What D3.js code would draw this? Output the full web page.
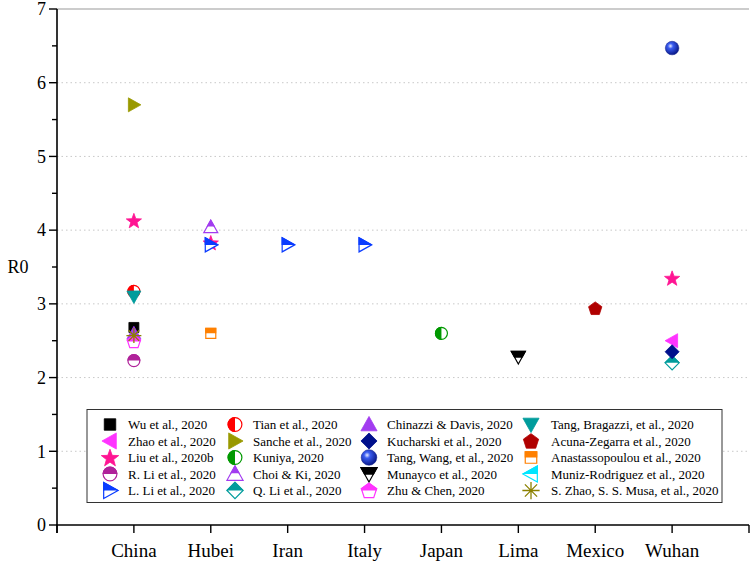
<!DOCTYPE html>
<html>
<head>
<meta charset="utf-8">
<script src="https://cdn.jsdelivr.net/npm/d3@7"></script>
<style>
  html, body { margin: 0; padding: 0; background: #fff; }
  svg { display: block; font-family: "Liberation Serif", "Times New Roman", serif; }
</style>
</head>
<body>
<svg id="chart" width="753" height="563"></svg>
<script>
// ---------- data ----------
const countries = ["China", "Hubei", "Iran", "Italy", "Japan", "Lima", "Mexico", "Wuhan"];
const yTicks = [0, 1, 2, 3, 4, 5, 6, 7];
const studies = [
  "Wu et al., 2020", "Zhao et al., 2020", "Liu et al., 2020b", "R. Li et al., 2020", "L. Li et al., 2020",
  "Tian et al., 2020", "Sanche et al., 2020", "Kuniya, 2020", "Choi & Ki, 2020", "Q. Li et al., 2020",
  "Chinazzi & Davis, 2020", "Kucharski et al., 2020", "Tang, Wang, et al., 2020", "Munayco et al., 2020", "Zhu & Chen, 2020",
  "Tang, Bragazzi, et al., 2020", "Acuna-Zegarra et al., 2020", "Anastassopoulou et al., 2020", "Muniz-Rodriguez et al., 2020", "S. Zhao, S. S. Musa, et al., 2020"
];
const studyColors = [
  "#000000", "#ff33ff", "#ff1493", "#b0229a", "#0a3cff",
  "#ff0000", "#999900", "#009900", "#a23cf0", "#009c9c",
  "#a23cf0", "#00108c", "#1a33cc", "#000000", "#ff33ff",
  "#009c9c", "#b00000", "#ff8000", "#00e5ff", "#8b8000"
];
const studyShapes = [
  "square", "left", "star", "circle", "right",
  "circle", "right", "circle", "up", "diamond",
  "up", "diamond", "sphere", "down", "pentagon",
  "down", "pentagon", "square", "left", "asterisk"
];
const studyFill = [
  "full", "full", "full", "top", "top",
  "left", "full", "left", "top", "top",
  "full", "full", "full", "top", "top",
  "full", "full", "top", "top", "full"
];
// points: study index, country, R0
const pointStudy   = [0, 1, 2, 2, 2, 3, 4, 4, 4, 5, 6, 7, 8, 9, 10, 11, 12, 13, 14, 15, 16, 17, 19];
const pointCountry = ["China", "Wuhan", "China", "Hubei", "Wuhan", "China", "Hubei", "Iran", "Italy", "China", "China", "Japan", "Hubei", "Wuhan", "China", "Wuhan", "Wuhan", "Lima", "China", "China", "Mexico", "Hubei", "China"];
const pointR0      = [2.68, 2.5, 4.13, 3.83, 3.35, 2.23, 3.8, 3.8, 3.8, 3.17, 5.7, 2.6, 4.04, 2.2, 2.6, 2.35, 6.47, 2.28, 2.49, 3.1, 2.94, 2.6, 2.57];

// ---------- layout ----------
const svg = d3.select("#chart");
const X0 = 57, X1 = 749, Y0 = 525, Y1 = 9;
const x = d3.scaleLinear().domain([0, countries.length + 1]).range([X0, X1]);
const y = d3.scaleLinear().domain([0, 7]).range([Y0, Y1]);

const defs = svg.append("defs");
defs.append("clipPath").attr("id", "clipTop").attr("clipPathUnits", "objectBoundingBox")
  .append("rect").attr("x", -0.1).attr("y", -0.1).attr("width", 1.2).attr("height", 0.6);
defs.append("clipPath").attr("id", "clipLeft").attr("clipPathUnits", "objectBoundingBox")
  .append("rect").attr("x", -0.1).attr("y", -0.1).attr("width", 0.6).attr("height", 1.2);
const grad = defs.append("radialGradient").attr("id", "sphereGrad")
  .attr("cx", "38%").attr("cy", "35%").attr("r", "65%");
grad.append("stop").attr("offset", "0%").attr("stop-color", "#e8ecff");
grad.append("stop").attr("offset", "30%").attr("stop-color", "#3a5cf0");
grad.append("stop").attr("offset", "100%").attr("stop-color", "#0a1a8a");

// gridlines
svg.append("g").selectAll("line").data(yTicks.filter(v => v > 0 && v < 7)).join("line")
  .attr("x1", X0).attr("x2", X1).attr("y1", d => y(d)).attr("y2", d => y(d))
  .attr("stroke", "#c8c8c8").attr("stroke-width", 1).attr("stroke-dasharray", "1.5,3");

// top frame line
svg.append("line").attr("x1", X0).attr("x2", X1).attr("y1", Y1).attr("y2", Y1)
  .attr("stroke", "#9a9a9a").attr("stroke-width", 1.2);

// ---------- marker drawing ----------
function shapePath(shape, s) {
  const p = [];
  switch (shape) {
    case "square": { const h = 5 * s; return `M${-h},${-h}H${h}V${h}H${-h}Z`; }
    case "up": return `M0,${-7 * s}L${7 * s},${5.5 * s}L${-7 * s},${5.5 * s}Z`;
    case "down": return `M0,${7 * s}L${7 * s},${-5.5 * s}L${-7 * s},${-5.5 * s}Z`;
    case "right": return `M${7 * s},0L${-5.5 * s},${-7 * s}L${-5.5 * s},${7 * s}Z`;
    case "left": return `M${-7 * s},0L${5.5 * s},${-7 * s}L${5.5 * s},${7 * s}Z`;
    case "diamond": return `M0,${-7 * s}L${7 * s},0L0,${7 * s}L${-7 * s},0Z`;
    case "pentagon": {
      for (let i = 0; i < 5; i++) {
        const a = -Math.PI / 2 + i * 2 * Math.PI / 5;
        p.push([7 * s * Math.cos(a), 7 * s * Math.sin(a) + 0.6 * s]);
      }
      return "M" + p.map(q => q.join(",")).join("L") + "Z";
    }
    case "star": {
      for (let i = 0; i < 10; i++) {
        const a = -Math.PI / 2 + i * Math.PI / 5;
        const r = (i % 2 === 0 ? 8 : 3.3) * s;
        p.push([r * Math.cos(a), r * Math.sin(a) + 0.8 * s]);
      }
      return "M" + p.map(q => q.join(",")).join("L") + "Z";
    }
    case "asterisk": {
      let d = "";
      for (let i = 0; i < 4; i++) {
        const a = i * Math.PI / 4;
        const r = 7.5 * s;
        d += `M${-r * Math.cos(a)},${-r * Math.sin(a)}L${r * Math.cos(a)},${r * Math.sin(a)}`;
      }
      return d;
    }
    default: return null;
  }
}

function drawMarker(g, si, s) {
  const shape = studyShapes[si], color = studyColors[si], fill = studyFill[si];
  if (shape === "sphere") {
    g.append("circle").attr("r", 6.8 * s).attr("fill", "url(#sphereGrad)").attr("stroke", "#0a1a8a").attr("stroke-width", 0.5);
    return;
  }
  if (shape === "asterisk") {
    g.append("path").attr("d", shapePath(shape, s)).attr("stroke", color).attr("stroke-width", 1.3).attr("fill", "none");
    return;
  }
  const make = () => shape === "circle"
    ? g.append("circle").attr("r", 6 * s)
    : g.append("path").attr("d", shapePath(shape, s));
  if (fill === "full") {
    make().attr("fill", color).attr("stroke", color).attr("stroke-width", 0.8);
  } else {
    make().attr("fill", "#fff").attr("stroke", color).attr("stroke-width", 1.2);
    make().attr("fill", color).attr("stroke", color).attr("stroke-width", 1.2)
      .attr("clip-path", fill === "top" ? "url(#clipTop)" : "url(#clipLeft)");
  }
}

// ---------- points ----------
const points = pointStudy.map((si, i) => ({ si, c: pointCountry[i], v: pointR0[i] }));
const pg = svg.append("g");
points.forEach(d => {
  const g = pg.append("g").attr("transform", `translate(${x(countries.indexOf(d.c) + 1)},${y(d.v)})`);
  drawMarker(g, d.si, 1);
});

// ---------- axes ----------
const yAxis = svg.append("g");
yAxis.append("line").attr("x1", X0).attr("x2", X0).attr("y1", Y1).attr("y2", Y0 + 8)
  .attr("stroke", "#000").attr("stroke-width", 1.6);
yAxis.selectAll(".maj").data(yTicks).join("line")
  .attr("x1", X0 - 8).attr("x2", X0).attr("y1", d => y(d)).attr("y2", d => y(d))
  .attr("stroke", "#000").attr("stroke-width", 1.4);
yAxis.selectAll(".min").data(yTicks.slice(0, -1).map(v => v + 0.5)).join("line")
  .attr("x1", X0 - 5).attr("x2", X0).attr("y1", d => y(d)).attr("y2", d => y(d))
  .attr("stroke", "#000").attr("stroke-width", 1.4);
yAxis.selectAll("text").data(yTicks).join("text")
  .attr("x", X0 - 11).attr("y", d => y(d)).attr("dy", "0.35em")
  .attr("text-anchor", "end").attr("font-size", 18).attr("fill", "#000").text(d => d);

svg.append("text").attr("x", 18).attr("y", (Y0 + Y1) / 2).attr("dy", "0.35em")
  .attr("text-anchor", "middle").attr("font-size", 18).text("R0");

const xAxis = svg.append("g");
xAxis.append("line").attr("x1", X0 - 1).attr("x2", X1).attr("y1", Y0).attr("y2", Y0)
  .attr("stroke", "#000").attr("stroke-width", 1.6);
xAxis.selectAll(".tk").data(d3.range(0, countries.length + 2)).join("line")
  .attr("x1", d => x(d)).attr("x2", d => x(d)).attr("y1", Y0).attr("y2", Y0 + 8)
  .attr("stroke", "#000").attr("stroke-width", 1.4);
xAxis.selectAll("text").data(countries).join("text")
  .attr("x", (d, i) => x(i + 1)).attr("y", Y0 + 32)
  .attr("text-anchor", "middle").attr("font-size", 19).text(d => d);

// ---------- legend ----------
const lg = svg.append("g");
lg.append("rect").attr("x", 87).attr("y", 409.5).attr("width", 635).attr("height", 93)
  .attr("fill", "#fff").attr("stroke", "#333").attr("stroke-width", 1);
const colSym = [110, 235, 369, 531];
const colTxt = [128, 253, 387, 551];
const rowY = [424.5, 441, 457.5, 474, 490.5];
studies.forEach((name, i) => {
  const c = Math.floor(i / 5), r = i % 5;
  const g = lg.append("g").attr("transform", `translate(${colSym[c]},${rowY[r]})`);
  drawMarker(g, i, 1.15);
  lg.append("text").attr("x", colTxt[c]).attr("y", rowY[r]).attr("dy", "0.35em")
    .attr("font-size", 13).attr("fill", "#000").text(name);
});
</script>
</body>
</html>
